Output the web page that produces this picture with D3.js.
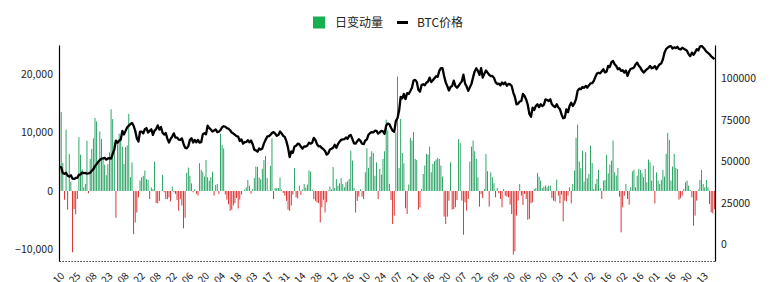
<!DOCTYPE html>
<html><head><meta charset="utf-8">
<script src="https://cdn.jsdelivr.net/npm/d3@7"></script>
<style>
html,body{margin:0;padding:0;background:#fff;}
svg{display:block;font-family:"Noto Sans CJK SC","Noto Sans",sans-serif;}
</style></head><body>
<svg id="chart" width="774" height="282"></svg>
<script>
const seriesNames = ["日变动量", "BTC价格"];
const tickLabels = ["2024-01-10","2024-01-25","2024-02-08","2024-02-23","2024-03-08","2024-03-22","2024-04-08","2024-04-22","2024-05-06","2024-05-20","2024-06-04","2024-06-18","2024-07-03","2024-07-17","2024-07-31","2024-08-14","2024-08-28","2024-09-12","2024-09-26","2024-10-10","2024-10-24","2024-11-07","2024-11-21","2024-12-06","2024-12-20","2025-01-07","2025-01-22","2025-02-05","2025-02-20","2025-03-06","2025-03-20","2025-04-03","2025-04-17","2025-05-02","2025-05-16","2025-06-02","2025-06-16","2025-07-01","2025-07-16","2025-07-30","2025-08-13"];
const leftTicks = [-10000, 0, 10000, 20000];
const rightTicks = [0, 25000, 50000, 75000, 100000];

// daily change (left axis), one value per trading day
const flows = [
0,13500,4800,-1500,10500,-3200,6300,1600,-10500,-3100,
-4000,-1400,9200,6200,3700,600,1200,8600,-400,5500,
7200,9000,12500,11900,5100,10200,8900,5500,4500,2700,
4600,6600,14000,12300,8300,-4600,8000,9800,8600,7600,
4600,7500,7800,13200,2350,4900,-7400,-5400,-3700,-1100,
1800,2350,2600,3500,2000,1900,-1400,600,300,5000,
-2100,-2100,-1700,50,2750,-230,-1400,-1400,-1100,-1800,
740,-230,-510,-1540,-3400,-1400,-2500,-6400,-4600,3100,
4000,2600,1300,-230,340,-510,-800,4750,3600,3300,
2460,5300,2350,1770,2350,3300,-800,1030,1200,-510,
9800,7900,7300,-600,-1500,-2300,-3400,-3200,-2500,-2100,
-1200,-3000,-1500,-600,0,230,600,1900,900,-460,
300,2200,4200,4100,2300,2000,3800,5300,6000,2200,
60,4300,9000,-1400,500,500,500,2300,200,-340,
-800,-1700,-3200,-3400,-2500,-600,3900,-1100,-1300,900,
-700,230,1200,570,1100,3500,3300,230,-1400,-1700,
-1950,-2100,-5400,-2800,-1500,-3700,-1950,100,740,290,
4100,500,2060,900,1300,2200,1200,630,1500,1660,
2060,6900,5200,500,-3700,-1700,-970,290,-970,-1400,
3200,7300,3950,5900,6800,6500,2600,4900,-1400,3800,
2800,5500,6800,12200,10350,1200,-1540,-5660,-4230,10000,
19600,3950,12350,6500,4750,-2970,-3950,1090,9100,8640,
10070,5500,5320,-3200,-2800,340,2900,4350,6350,6230,
7600,3200,4630,5090,5380,5660,5490,4350,2460,-4400,
-5660,-4400,-1660,4920,-3200,-3090,-2800,-1540,8900,8200,
-1660,-7500,-1950,-3370,-1370,5030,7600,8640,6800,5490,
2350,-2690,-510,-1200,340,6350,3370,-2690,3200,2350,
1320,-1090,500,-400,-1370,-2800,340,-800,-970,-1090,
-2350,-3950,-10900,-10350,-4230,-1660,1200,-800,-2400,-510,
-1370,-4920,-4800,-2120,-1950,340,500,3090,2460,1770,
500,740,920,630,920,920,-1200,-1660,-1830,1940,
-800,-2120,-630,-5200,-1660,-1770,-800,630,-2120,1200,
3490,9100,11380,5030,3900,6900,1600,6630,2170,2920,
7780,4800,340,1200,2060,3600,500,-1370,1770,1890,
6180,3030,4520,5200,8640,3200,2630,3950,-970,-7090,
-2800,-800,1200,-1370,-2350,630,3370,3600,630,2630,
3780,3600,3030,2350,3780,1490,5380,4920,1770,4350,
-2120,3200,1770,1200,1890,3600,2460,6350,9950,8750,
1770,4180,6350,3950,3780,-1490,-1260,-800,340,1490,
1770,920,170,-1090,-5950,-4230,-1660,230,1890,3600,
1200,630,1890,630,-2230,-3660,-3830,-3090
];

// BTC price (right axis)
const prices = [
46600,46400,42900,42500,43100,41300,40800,41600,39600,39400,
40000,40100,41800,42100,43300,42900,43000,42600,42700,43100,
44300,45300,47100,48300,49700,50700,51600,51800,52100,51000,
51700,51900,51600,54500,57100,62500,61200,62400,63100,68300,
66100,68300,70500,71500,72400,73100,71400,68400,63800,61900,
67900,67900,66800,69300,70000,67300,68300,69300,65900,68500,
69400,71600,69100,70600,67200,66100,67000,63500,61300,63500,
64900,66800,64200,64300,63100,62900,63800,60600,58200,57800,
59100,62900,63900,61300,62900,61400,62900,61300,61500,66200,
66900,66200,71400,70100,69100,67900,68500,69200,67600,67800,
68800,70500,71100,70800,70000,69600,68700,67300,66700,66000,
65100,64900,62200,63200,60600,61500,61600,62700,61400,62500,
60300,57000,56600,55800,57700,57000,57700,60800,62900,64800,
65100,65800,67000,67600,66700,65300,65900,67900,66800,65300,
64600,62000,58100,52500,56000,55100,58900,59400,60600,60300,
58700,57600,59000,58900,59500,61200,60600,61200,64100,62800,
60300,59000,59100,58000,57300,56200,54000,54800,57100,57600,
58200,60000,58200,60300,61800,62900,63200,63300,64300,63600,
65300,65800,63300,60800,60600,62100,63300,62300,60600,60300,
62500,63200,66000,67000,67600,67400,68400,68300,66700,67400,
68300,68000,66600,71500,72700,72300,70200,68400,67800,74300,
75900,80400,88700,87900,90500,87400,91000,90600,92300,94300,
98600,99000,97800,93000,91900,95900,96400,95800,97300,98000,
100400,97700,98800,100000,101200,100800,104400,106100,106000,101400,
97500,95200,92600,94700,95300,98600,95300,94300,95400,96900,
98100,102100,96900,95000,92400,94500,96600,100500,104100,106000,
104400,102000,106100,100400,102600,104700,103400,102100,101300,101400,
100200,97600,96500,96800,95700,97400,96400,97500,95400,96600,
96300,95300,91400,88700,84300,84700,86000,86300,90600,89300,
87200,84000,78500,76800,82300,80900,83300,84300,82600,84300,
83300,84000,87300,86900,86300,87300,84300,83300,82600,84300,
82400,81300,78200,75900,76300,81300,79600,83400,85300,83300,
84900,87500,92500,93700,93400,94700,94200,95400,94300,95700,
96900,97000,98300,100800,102800,103300,102900,104200,105400,103500,
104100,107400,106800,109700,110400,108400,107300,105400,106000,104400,
104800,103400,104600,101400,104100,105700,105900,106400,108300,109400,
107500,106400,104600,103400,104400,105400,106100,107400,106000,106400,
107300,105400,107100,108400,108900,111400,115400,117600,118500,119100,
119300,117900,118600,118200,118900,117600,117300,118400,117800,117200,
116400,114400,113300,115400,114100,115500,117500,116700,119000,119600,
118500,117400,116000,115300,114400,113200,112400,111400
];

const GREEN = "#179a55", RED = "#d81e1e", LEG_GREEN = "#16b050";
const svg = d3.select("#chart");
const L = 59, R = 715, T = 45, B = 261;
const idx = d3.range(flows.length);
const x = d3.scaleBand().domain(idx).range([L, R]).paddingInner(0.45).paddingOuter(0.1);
const bw = x.bandwidth();
const yL = d3.scaleLinear().domain([-12000, 25000]).range([B, T]);
const yR = d3.scaleLinear().domain([-10000, 120000]).range([B, T]);

// bars
svg.append("g").selectAll("rect").data(idx).join("rect")
  .attr("x", i => x(i))
  .attr("width", bw)
  .attr("y", i => Math.min(yL(0), yL(flows[i])))
  .attr("height", i => Math.abs(yL(flows[i]) - yL(0)))
  .attr("fill", i => flows[i] >= 0 ? GREEN : RED);

// price line
svg.append("clipPath").attr("id","clip").append("rect")
  .attr("x", L).attr("y", T).attr("width", R - L).attr("height", B - T);
svg.append("path").datum(idx)
  .attr("clip-path","url(#clip)")
  .attr("fill","none").attr("stroke","#000").attr("stroke-width",2.3)
  .attr("stroke-linejoin","round")
  .attr("d", d3.line().x(i => x(i) + bw / 2).y(i => yR(prices[i])));

// axes
const gl = svg.append("g").attr("transform", `translate(${L},0)`)
  .call(d3.axisLeft(yL).tickValues(leftTicks).tickSize(0).tickSizeOuter(0).tickPadding(6).tickFormat(d3.format(",")));
const gr = svg.append("g").attr("transform", `translate(${R},0)`)
  .call(d3.axisRight(yR).tickValues(rightTicks).tickSize(0).tickSizeOuter(0).tickPadding(6).tickFormat(d3.format("d")));
const gb = svg.append("g").attr("transform", `translate(0,${B})`)
  .call(d3.axisBottom(x).tickValues(idx.filter(i => i % 10 === 0)).tickSize(0).tickSizeOuter(0)
    .tickFormat(i => tickLabels[i / 10]));
[gl, gr].forEach(g => {
  g.select(".domain").attr("stroke", "#000").attr("stroke-width", 1.2);
  g.selectAll("text").attr("font-size", 10.5).attr("fill", "#222")
    .attr("font-family", '"Noto Sans CJK SC","Noto Sans",sans-serif');
});
gb.select(".domain").attr("stroke", "#000").attr("stroke-width", 1).attr("stroke-dasharray", "1.2,1.8");
gb.selectAll("text").attr("font-size", 10).attr("fill", "#222")
  .attr("font-family", '"Noto Sans CJK SC","Noto Sans",sans-serif')
  .attr("text-anchor", "end").attr("y", 0).attr("dy", "0.35em")
  .attr("transform", "translate(3,13) rotate(-45)");

// legend
const lg = svg.append("g");
lg.append("rect").attr("x", 313).attr("y", 16.5).attr("width", 12).attr("height", 12).attr("fill", LEG_GREEN);
lg.append("text").attr("x", 335).attr("y", 22.5).attr("dy", "0.35em").attr("font-size", 12).attr("fill", "#222").text(seriesNames[0]);
lg.append("rect").attr("x", 397).attr("y", 21).attr("width", 11).attr("height", 3).attr("fill", "#000");
lg.append("text").attr("x", 417).attr("y", 22.5).attr("dy", "0.35em").attr("font-size", 12).attr("fill", "#222").text(seriesNames[1]);
</script>
</body></html>
